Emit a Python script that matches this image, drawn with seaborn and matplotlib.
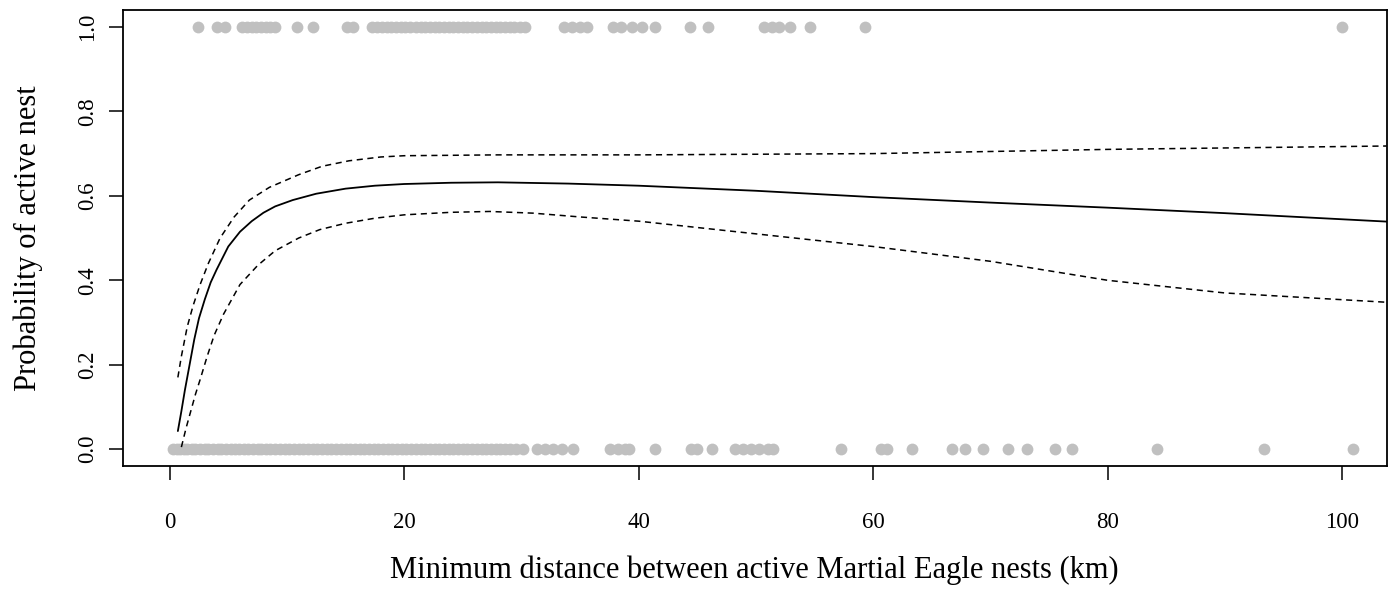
import matplotlib
matplotlib.use("Agg")
import matplotlib.pyplot as plt
import numpy as np
import pandas as pd
import seaborn as sns

# observed nests: distance (km) for active (1) and inactive (0)
active_km = [2.4, 4.0, 4.7, 6.2, 6.6, 7.0, 7.4, 7.8, 8.2, 8.6, 9.0, 10.9, 12.2, 15.1, 15.6,
             17.3, 17.7, 18.1, 18.5, 18.9, 19.3, 19.7, 20.1, 20.5, 21.0, 21.4, 21.8,
             22.2, 22.6, 23.0, 23.4, 23.8, 24.2, 24.6, 25.0, 25.4, 25.8, 26.2, 26.6,
             27.0, 27.4, 27.8, 28.2, 28.6, 29.0, 29.4, 29.9, 30.3,
             33.6, 34.3, 35.0, 35.6, 37.8, 38.5, 39.4, 40.3, 41.4, 44.4, 45.9,
             50.7, 51.4, 52.0, 52.9, 54.6, 59.3, 100.0]
inactive_km = [0.3, 0.6, 0.9, 1.2, 1.5, 1.9, 2.2, 2.6, 3.0, 3.3, 3.7, 4.1, 4.4, 4.8,
               5.2, 5.6, 5.9, 6.3, 6.7, 7.1, 7.5, 7.8, 8.2, 8.6, 9.0, 9.4, 9.8, 10.2,
               10.6, 11.0, 11.4, 11.8, 12.2, 12.6, 13.0, 13.4, 13.8, 14.2, 14.6, 15.0,
               15.4, 15.8, 16.2, 16.6, 17.0, 17.4, 17.8, 18.2, 18.6, 19.0, 19.4, 19.8,
               20.2, 20.6, 21.0, 21.4, 21.8, 22.2, 22.6, 23.0, 23.4, 23.8, 24.2, 24.6,
               25.0, 25.4, 25.8, 26.2, 26.6, 27.0, 27.4, 27.8, 28.2, 28.6, 29.0, 29.5,
               30.1, 31.3, 32.0, 32.7, 33.5, 34.4, 37.6, 38.2, 38.8, 39.2, 41.4, 44.5,
               45.0, 46.3, 48.2, 48.9, 49.6, 50.3, 51.0, 51.5, 57.3, 60.7, 61.2, 63.3,
               66.7, 67.8, 69.4, 71.5, 73.1, 75.5, 77.0, 84.2, 93.3, 100.9]

# fitted probability and 95% bounds
fit_x = [0.7, 1.0, 1.3, 1.7, 2.1, 2.5, 3.0, 3.5, 4.0, 5.0, 6.0, 7.0, 8.0, 9.0, 10.5,
         12.5, 15.0, 17.5, 20.0, 24.0, 28.0, 34.0, 40.0, 50.0, 60.0, 70.0, 80.0,
         90.0, 103.8]
fit_p = [0.043, 0.09, 0.14, 0.20, 0.26, 0.31, 0.355, 0.395, 0.425, 0.48, 0.515, 0.54,
         0.56, 0.575, 0.59, 0.605, 0.617, 0.624, 0.628, 0.631, 0.632, 0.629, 0.624,
         0.612, 0.597, 0.584, 0.572, 0.559, 0.539]
up_x = [0.7, 1.0, 1.5, 2.0, 2.6, 3.3, 4.3, 5.5, 6.8, 8.5, 11.0, 13.0, 15.3, 18.0,
        20.0, 28.0, 40.0, 60.0, 80.0, 103.8]
up_p = [0.17, 0.22, 0.29, 0.34, 0.39, 0.44, 0.50, 0.55, 0.59, 0.62, 0.65, 0.67, 0.683,
        0.692, 0.695, 0.697, 0.697, 0.70, 0.71, 0.718]
lo_x = [1.0, 1.4, 1.8, 2.2, 2.6, 3.2, 3.8, 4.6, 6.0, 7.5, 9.0, 11.0, 12.8, 15.0, 17.5,
        20.0, 24.0, 27.3, 31.0, 35.0, 40.0, 50.0, 60.0, 70.0, 80.0, 90.0, 103.8]
lo_p = [0.005, 0.05, 0.09, 0.13, 0.165, 0.22, 0.27, 0.32, 0.39, 0.435, 0.47, 0.50,
        0.52, 0.535, 0.547, 0.555, 0.561, 0.563, 0.559, 0.55, 0.54, 0.51, 0.48, 0.445,
        0.40, 0.37, 0.348]

obs = pd.DataFrame({
    "km": active_km + inactive_km,
    "active": [1] * len(active_km) + [0] * len(inactive_km),
})

sns.set_style("ticks")
plt.rcParams["font.family"] = ["Liberation Serif", "DejaVu Serif"]

fig = plt.figure(figsize=(13.95, 5.90), dpi=100)
ax = fig.add_axes([0.088, 0.21, 0.906, 0.773])

sns.scatterplot(data=obs, x="km", y="active", ax=ax, color="#c0c0c0",
                s=72, linewidth=0, zorder=2)
sns.lineplot(x=fit_x, y=fit_p, ax=ax, color="black", lw=1.3, zorder=3)
sns.lineplot(x=up_x, y=up_p, ax=ax, color="black", lw=1.1, zorder=3,
             linestyle=(0, (4, 3)))
sns.lineplot(x=lo_x, y=lo_p, ax=ax, color="black", lw=1.1, zorder=3,
             linestyle=(0, (4, 3)))

ax.set_xlim(-4.0, 103.8)
ax.set_ylim(-0.04, 1.04)
ax.set_xticks([0, 20, 40, 60, 80, 100])
ax.set_yticks([0.0, 0.2, 0.4, 0.6, 0.8, 1.0])
ax.set_yticklabels(["0.0", "0.2", "0.4", "0.6", "0.8", "1.0"], rotation=90, va="center")
for s in ax.spines.values():
    s.set_visible(True)
    s.set_color("black")
    s.set_linewidth(1.3)
ax.tick_params(direction="out", length=10, width=1.1, color="black",
               labelsize=16.5, labelcolor="black")
ax.tick_params(axis="x", pad=23)
ax.tick_params(axis="y", pad=8)
ax.set_xlabel("Minimum distance between active Martial Eagle nests (km)",
              fontsize=22, labelpad=16, color="black")
ax.set_ylabel("Probability of active nest", fontsize=22, labelpad=24, color="black")

fig.savefig("out.png", dpi=100)
